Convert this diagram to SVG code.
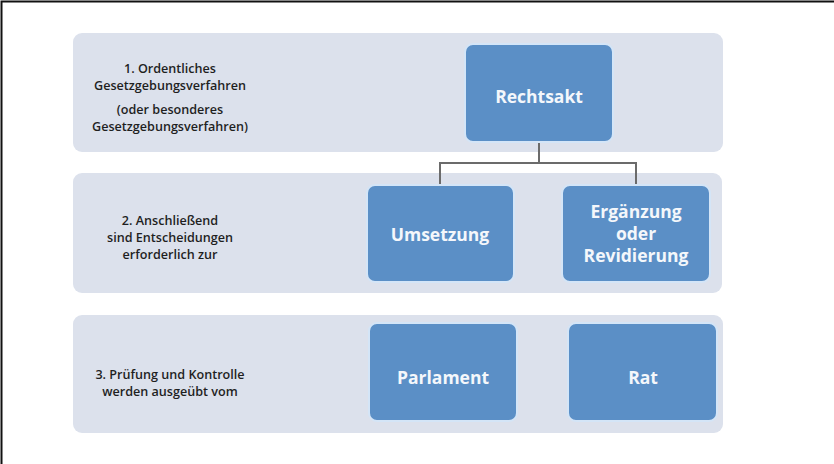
<svg xmlns="http://www.w3.org/2000/svg" width="834" height="464" viewBox="0 0 834 464">
  <style>
    .band { fill: #dce1ec; }
    .box { fill: #5b8fc6; stroke: #d4e5f7; stroke-width: 2; }
    .lbl { font-family: "Open Sans", "Liberation Sans", sans-serif; font-weight: 600; font-size: 12.6px; fill: #1f1f1f; text-anchor: middle; }
    .btxt { font-family: "Open Sans", "Liberation Sans", sans-serif; font-weight: 700; font-size: 17.5px; fill: #f4f7fb; text-anchor: middle; }
    .conn { fill: none; stroke: #6b6b6b; stroke-width: 2; }
  </style>

  <rect x="0" y="0" width="834" height="464" fill="#ffffff"/>
  <!-- frame -->
  <path d="M1.5,464 V1.5 H834" fill="none" stroke="#111" stroke-width="2"/>

  <!-- level bands -->
  <g id="band1">
    <rect class="band" x="73" y="33" width="650" height="119" rx="9"/>
    <text class="lbl" x="170" y="73">1. Ordentliches</text>
    <text class="lbl" x="170" y="90">Gesetzgebungsverfahren</text>
    <text class="lbl" x="170" y="114">(oder besonderes</text>
    <text class="lbl" x="170" y="131">Gesetzgebungsverfahren)</text>
  </g>
  <g id="band2">
    <rect class="band" x="73" y="173" width="649" height="120" rx="9"/>
    <text class="lbl" x="170" y="225">2. Anschließend</text>
    <text class="lbl" x="170" y="242">sind Entscheidungen</text>
    <text class="lbl" x="170" y="259">erforderlich zur</text>
  </g>
  <g id="band3">
    <rect class="band" x="73" y="315" width="650" height="118" rx="9"/>
    <text class="lbl" x="170" y="379">3. Prüfung und Kontrolle</text>
    <text class="lbl" x="170" y="396">werden ausgeübt vom</text>
  </g>

  <!-- connectors -->
  <g id="connectors">
    <path class="conn" d="M539,143 V163 M440,163 H636 M440,162 V185 M636,162 V185"/>
  </g>

  <!-- nodes -->
  <g id="rechtsakt">
    <rect class="box" x="465" y="44" width="148" height="98" rx="8"/>
    <text class="btxt" x="539" y="103">Rechtsakt</text>
  </g>
  <g id="umsetzung">
    <rect class="box" x="367" y="185" width="147" height="97" rx="8"/>
    <text class="btxt" x="440" y="241">Umsetzung</text>
  </g>
  <g id="ergaenzung">
    <rect class="box" x="562" y="185" width="148" height="97" rx="8"/>
    <text class="btxt" x="636" y="218">Ergänzung</text>
    <text class="btxt" x="636" y="240">oder</text>
    <text class="btxt" x="636" y="262">Revidierung</text>
  </g>
  <g id="parlament">
    <rect class="box" x="369" y="323" width="148" height="98" rx="8"/>
    <text class="btxt" x="443" y="384">Parlament</text>
  </g>
  <g id="rat">
    <rect class="box" x="568" y="323" width="149" height="98" rx="8"/>
    <text class="btxt" x="643" y="384">Rat</text>
  </g>
</svg>
